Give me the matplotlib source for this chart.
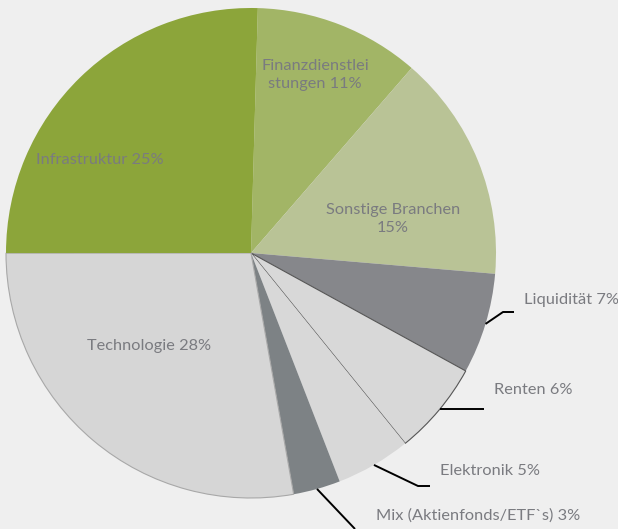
import numpy as np
import matplotlib.pyplot as plt

# Daten (Anteile, Beschriftung gerundet)
labels = ["Finanzdienstlei\nstungen 11%", "Sonstige Branchen\n15%", "Liquidität 7%",
          "Renten 6%", "Elektronik 5%", "Mix (Aktienfonds/ETF`s) 3%",
          "Technologie 28%", "Infrastruktur 25%"]
values = [10.94, 14.97, 6.64, 6.17, 4.94, 3.11, 27.78, 25.45]
colors = ["#a2b566", "#b9c396", "#86878b", "#d8d8d8", "#d8d8d8", "#7d8285",
          "#d6d6d6", "#8ca53a"]

W, H = 618, 529
cx, cy, R = 251, H - 253, 245
start = 88.4

fig = plt.figure(figsize=(W / 100, H / 100), dpi=100)
fig.patch.set_facecolor("#efefef")
ax = fig.add_axes([0, 0, 1, 1])
ax.set_facecolor("#efefef")

wedges, _ = ax.pie(values, colors=colors, startangle=start, counterclock=False,
                   center=(cx, cy), radius=R, frame=True,
                   wedgeprops=dict(linewidth=0))
# Ränder wie im Original
wedges[3].set_edgecolor("#555555")
wedges[3].set_linewidth(0.8)
wedges[6].set_edgecolor("#a8a8a8")
wedges[6].set_linewidth(0.8)

ax.set_xlim(0, W)
ax.set_ylim(0, H)
ax.set_aspect("equal")
ax.axis("off")

txt = dict(color="#7a7b80", fontsize=11.8, family="Lato")

# Beschriftungen innen
ax.text(315, H - 75, labels[0], ha="center", va="center", linespacing=1.45, **txt)
ax.text(393, H - 219, labels[1], ha="center", va="center", linespacing=1.45, **txt)
ax.text(100, H - 160, labels[7], ha="center", va="center", **txt)
ax.text(149, H - 346, labels[6], ha="center", va="center", **txt)

# Beschriftungen außen mit Führungslinien
tot = sum(values)
frac = np.array(values) / tot * 360
ang = start - np.cumsum([0] + list(frac[:-1])) - frac / 2
outer = {2: ((503, 312), (514, 312), (524, 300)),
         3: (None, (484, 409), (494, 390)),
         4: ((418, 486), (430, 486), (440, 471)),
         5: ((355, 529), (355, 529), (376, 516))}
for i, (p1, p2, tp) in outer.items():
    if p1 is None:
        # waagerechte Linie ab dem Kreisrand
        y0 = H - p2[1]
        x0 = cx + np.sqrt(R ** 2 - (y0 - cy) ** 2)
        xs, ys = [x0, p2[0]], [y0, y0]
    else:
        a = np.deg2rad(ang[i])
        x0, y0 = cx + R * np.cos(a), cy + R * np.sin(a)
        xs, ys = [x0, p1[0], p2[0]], [y0, H - p1[1], H - p2[1]]
    ax.plot(xs, ys, color="black", lw=1.4, solid_capstyle="butt", clip_on=False)
    ax.text(tp[0], H - tp[1], labels[i], ha="left", va="center", **txt)

fig.savefig("out.png", dpi=100, facecolor=fig.get_facecolor())
